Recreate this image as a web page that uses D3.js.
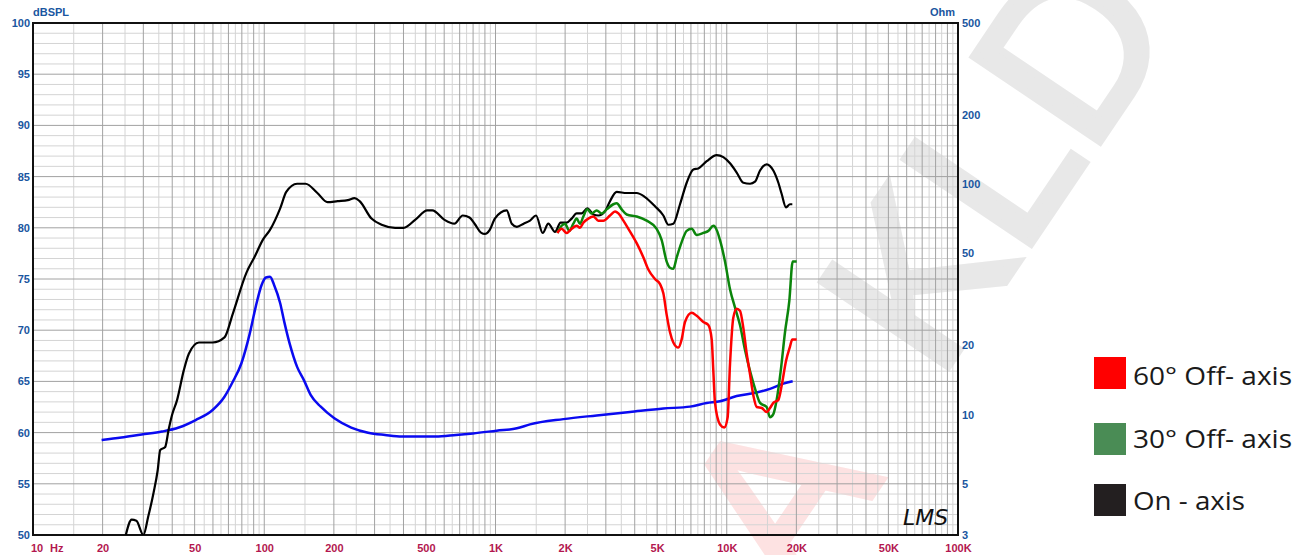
<!DOCTYPE html>
<html>
<head>
<meta charset="utf-8">
<title>Frequency response</title>
<script src="https://d3js.org/d3.v7.min.js"></script>
<style>
  body { margin: 0; background: #fff; }
  svg text { font-family: "Liberation Sans", Arial, sans-serif; }
</style>
</head>
<body>
<script>
// ---- data ----
const onFreq = [25.2,26.7,28.0,30.0,31.5,33.2,34.6,35.5,37.3,38.6,39.9,42.0,44.9,47.2,52.2,59.8,67.3,73.1,83.7,91.0,99.0,105.9,117.2,124.5,138.7,150.9,169.7,187.7,207.7,229.8,245.8,258.5,290.9,321.7,368.1,400.5,450.5,506.8,533.2,599.8,663.4,721.8,772.0,812.1,868.5,898.3,944.7,993.6,1118,1176,1237,1323,1410,1497,1600,1692,1808,1913,2031,2135,2244,2358,2495,2650,2784,2975,3127,3342,3692,4078,4431,4894,5319,5591,5875,6279,6710,7171,7538,8190,9045,9666,10330,11040,11800,12610,13250,13930,14880,15900,16720,17280,18040,18770,19210];
const onDb = [50.0,51.5,51.4,50.0,51.8,54.1,56.3,58.3,58.6,60.3,61.7,63.2,66.1,67.7,68.8,68.8,69.3,71.6,75.6,77.2,78.9,79.8,81.9,83.5,84.3,84.3,83.4,82.5,82.6,82.7,82.9,82.6,80.9,80.3,80.0,80.0,80.8,81.7,81.7,80.8,80.4,81.2,81.0,80.4,79.5,79.4,79.8,80.9,81.7,80.4,80.1,80.4,80.7,81.2,79.5,80.4,79.6,80.5,80.5,80.9,81.4,81.4,81.9,81.3,81.2,81.6,82.6,83.5,83.4,83.4,83.0,82.1,81.2,80.3,80.4,82.3,84.4,85.7,85.8,86.5,87.1,86.9,86.3,85.4,84.4,84.3,84.5,85.6,86.2,85.6,84.4,83.3,82.0,82.3,82.3];

const off30Freq = [1851,1932,1998,2086,2171,2244,2319,2398,2495,2606,2738,2878,3025,3233,3342,3513,3692,4078,4505,4976,5232,5499,5684,5875,6073,6383,6710,7053,7413,7921,8325,8750,8897,9350,9828,10330,10860,11410,11990,12610,13250,13930,14880,15380,15900,16440,17110,17860,18650,19280,20060];
const off30Db = [79.5,80.2,80.4,79.7,80.4,80.9,80.4,81.1,81.8,81.4,81.7,81.4,81.8,82.3,82.4,81.8,81.3,81.1,80.7,79.9,78.8,76.7,76.1,76.0,77.1,78.6,79.7,79.9,79.3,79.5,79.7,80.2,80.1,78.8,76.7,74.0,72.2,70.5,68.1,66.0,64.3,62.9,62.5,61.5,61.8,63.2,66.0,69.8,72.9,76.7,76.7];

const off60Freq = [1851,1932,2031,2135,2244,2319,2398,2518,2650,2784,2927,3127,3288,3400,3573,3755,4078,4362,4586,4894,5145,5319,5499,5684,5875,6175,6383,6598,7053,7413,7921,8325,8608,8750,8897,9350,9760,10090,10330,10670,11040,11410,11800,12200,12610,13040,13480,14180,14880,15380,15900,16720,17280,18040,18770,19210,20060];
const off60Db = [79.5,79.9,79.5,79.9,80.2,80.0,80.5,80.9,81.1,80.7,80.7,81.2,81.6,81.4,80.7,79.9,78.5,77.1,75.9,75.0,74.5,73.6,71.5,69.8,68.8,68.3,69.1,70.8,71.7,71.4,70.8,70.5,69.1,66.0,62.9,60.8,60.5,61.5,66.7,71.2,72.1,71.9,70.2,67.7,65.7,63.6,62.5,62.4,62.0,62.4,62.9,63.2,64.6,67.0,68.4,69.1,69.1];

const impFreq = [19.8,24.1,29.5,36.1,42.7,50.5,59.8,67.3,73.1,79.6,86.6,91.9,97.4,101.7,105.9,110.3,117.2,122.0,128.8,138.7,148.4,158.7,175.5,200.9,237.7,281.3,332.9,393.9,551.3,674.9,798.8,1011,1237,1410,1965,2738,3815,5319,6936,8190,9350,11040,13470,15380,17570,19280];
const impOhm = [7.75,7.94,8.19,8.43,8.78,9.46,10.46,11.94,13.87,16.65,22.5,29.4,36.5,39.3,39.6,36.5,30.4,25.3,20.3,16.1,14.1,12.16,10.81,9.63,8.78,8.34,8.15,8.02,8.02,8.15,8.28,8.51,8.71,9.06,9.55,9.91,10.26,10.62,10.82,11.21,11.41,12.03,12.46,12.92,13.62,13.94];

const dbTicks = [50,55,60,65,70,75,80,85,90,95,100];
const ohmTicks = [3,5,10,20,50,100,200,500];
const freqTicks = [20,50,100,200,500,1000,2000,5000,10000,20000,50000,100000];
const freqLabels = ["20","50","100","200","500","1K","2K","5K","10K","20K","50K","100K"];

const legendNames = ["60° Off- axis","30° Off- axis","On - axis"];
const legendColors = ["#ff0000","#4a8c55","#231f20"];

// ---- layout ----
const W = 1310, H = 555;
const L = 33, R = 958, T = 23, B = 535;
const blueTxt = "#1a56a0", redTxt = "#b3174f";

const svg = d3.select("body").append("svg").attr("width", W).attr("height", H);

const x = d3.scaleLog().domain([10, 100000]).range([L, R]);
const y = d3.scaleLinear().domain([50, 100]).range([B, T]);
const yOhm = d3.scaleLog().domain([3, 500]).range([B, T]);

// watermark, sits behind the grid, clipped to the page
svg.append("clipPath").attr("id", "page").append("rect").attr("width", W).attr("height", H);
const wm = svg.append("g").attr("clip-path", "url(#page)")
  .style("font-family", "'DejaVu Sans', sans-serif").style("font-size", "222px");
wm.append("text").attr("transform", "translate(800,602) rotate(-56)")
  .attr("fill", "#fde2e2").attr("stroke", "#fde2e2").attr("stroke-width", 7).text("A");
wm.append("text").attr("transform", "translate(938,382) rotate(-56)")
  .attr("fill", "#e8e8e8").attr("stroke", "#e8e8e8").attr("stroke-width", 7).text("KLD");

// grid
const vMajor = [], vMinor = [];
[10, 100, 1000, 10000].forEach(d => {
  for (let m = 1; m <= 9; m++) vMajor.push(m * d);
  for (let m = 1.5; m < 10; m++) vMinor.push(m * d);
});
const grid = svg.append("g");
grid.selectAll(".vmin").data(vMinor).join("line")
  .attr("x1", d => x(d)).attr("x2", d => x(d)).attr("y1", T).attr("y2", B)
  .attr("stroke", "#d4d4d4").attr("stroke-width", 1);
grid.selectAll(".hmin").data(d3.range(50, 101, 1).filter(v => v % 5)).join("line")
  .attr("x1", L).attr("x2", R).attr("y1", d => y(d)).attr("y2", d => y(d))
  .attr("stroke", "#d4d4d4").attr("stroke-width", 1);
grid.selectAll(".vmaj").data(vMajor).join("line")
  .attr("x1", d => x(d)).attr("x2", d => x(d)).attr("y1", T).attr("y2", B)
  .attr("stroke", "#a2a2a2").attr("stroke-width", 1);
grid.selectAll(".hmaj").data(dbTicks).join("line")
  .attr("x1", L).attr("x2", R).attr("y1", d => y(d)).attr("y2", d => y(d))
  .attr("stroke", "#a2a2a2").attr("stroke-width", 1);

svg.append("rect").attr("x", L).attr("y", T).attr("width", R - L).attr("height", B - T)
  .attr("fill", "none").attr("stroke", "#111").attr("stroke-width", 2);

// curves
svg.append("clipPath").attr("id", "plot").append("rect")
  .attr("x", L).attr("y", T).attr("width", R - L).attr("height", B - T);
const curves = svg.append("g").attr("clip-path", "url(#plot)");

const spl = d3.line().x(d => x(d[0])).y(d => y(d[1])).curve(d3.curveMonotoneX);
const imp = d3.line().x(d => x(d[0])).y(d => yOhm(d[1])).curve(d3.curveMonotoneX);

curves.append("path").attr("d", imp(d3.zip(impFreq, impOhm)))
  .attr("fill", "none").attr("stroke", "#0a0af0").attr("stroke-width", 2.5);
curves.append("path").attr("d", spl(d3.zip(onFreq, onDb)))
  .attr("fill", "none").attr("stroke", "#000").attr("stroke-width", 2.2);
curves.append("path").attr("d", spl(d3.zip(off30Freq, off30Db)))
  .attr("fill", "none").attr("stroke", "#0b850b").attr("stroke-width", 2.5);
curves.append("path").attr("d", spl(d3.zip(off60Freq, off60Db)))
  .attr("fill", "none").attr("stroke", "#ff0000").attr("stroke-width", 2.5);

// axes
const left = svg.append("g").attr("transform", `translate(${L},0)`)
  .call(d3.axisLeft(y).tickValues(dbTicks).tickSize(0).tickPadding(3));
const right = svg.append("g").attr("transform", `translate(${R},0)`)
  .call(d3.axisRight(yOhm).tickValues(ohmTicks).tickFormat(d3.format("d")).tickSize(0).tickPadding(4));
const bottom = svg.append("g").attr("transform", `translate(0,${B})`)
  .call(d3.axisBottom(x).tickValues(freqTicks).tickFormat((d, i) => freqLabels[i]).tickSize(0).tickPadding(9));
[left, right, bottom].forEach(g => {
  g.select(".domain").remove();
  g.selectAll("text").style("font-size", "11px").style("font-weight", "bold")
    .style("font-family", "'Liberation Sans', Arial, sans-serif");
});
left.selectAll("text").attr("fill", blueTxt);
right.selectAll("text").attr("fill", blueTxt);
bottom.selectAll("text").attr("fill", redTxt);

svg.append("text").attr("x", 31).attr("y", 552).attr("fill", redTxt)
  .style("font-size", "11px").style("font-weight", "bold").text("10");
svg.append("text").attr("x", 50).attr("y", 552).attr("fill", redTxt)
  .style("font-size", "11px").style("font-weight", "bold").text("Hz");

svg.append("text").attr("x", L).attr("y", 16).attr("fill", blueTxt)
  .style("font-size", "11px").style("font-weight", "bold").text("dBSPL");
svg.append("text").attr("x", 955).attr("y", 16).attr("text-anchor", "end").attr("fill", blueTxt)
  .style("font-size", "11px").style("font-weight", "bold").text("Ohm");

// LMS mark
svg.append("text").attr("x", 903).attr("y", 525).attr("fill", "#111")
  .style("font-family", "'DejaVu Sans', sans-serif").style("font-style", "italic")
  .style("font-weight", "200").style("font-size", "22px").text("LMS");

// legend
const leg = svg.append("g").selectAll("g").data(legendNames).join("g")
  .attr("transform", (d, i) => `translate(1094,${[357, 423, 484][i]})`);
leg.append("rect").attr("width", 32).attr("height", 32)
  .attr("fill", (d, i) => legendColors[i]);
leg.append("text").attr("x", 39).attr("y", (d, i) => [28, 25, 26][i])
  .attr("fill", "#1a1a1a")
  .style("font-family", "'Open Sans', sans-serif").style("font-size", "25px")
  .attr("textLength", (d, i) => [159, 159, 112][i]).attr("lengthAdjust", "spacingAndGlyphs")
  .text(d => d);
</script>
</body>
</html>
